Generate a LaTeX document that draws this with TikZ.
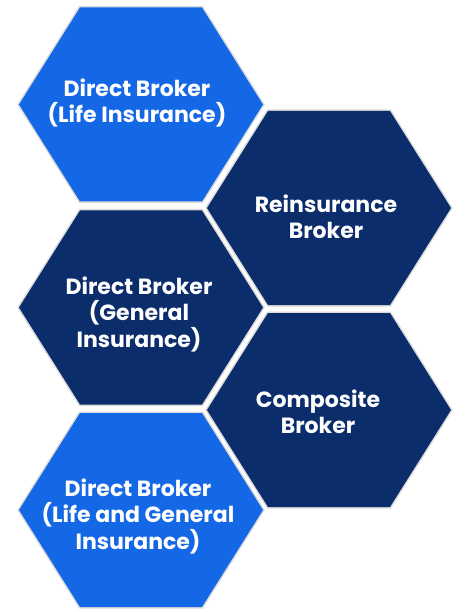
\documentclass[tikz,border=0pt]{standalone}
\usepackage{fontspec}
\setmainfont{Poppins}[BoldFont={* Bold}]
\definecolor{brightblue}{HTML}{1568E5}
\definecolor{navy}{HTML}{0C2D6C}
\tikzset{
  hexshadow/.style={draw=black!14, line width=3pt, line join=miter},
  hexlabel/.style={text=white, align=center, inner sep=0pt,
    font=\fontsize{22}{26.5}\selectfont\bfseries},
}
\def\hexshape{(-122,0) -- (-61,-97) -- (61,-97) -- (122,0) -- (61,97) -- (-61,97) -- cycle}
\begin{document}
\begin{tikzpicture}[x=1pt,y=-1pt]
\useasboundingbox[fill=white] (0,0) rectangle (474,612);
\foreach \px/\py/\c in {141/104.5/brightblue, 329/208/navy, 141/307.5/navy, 329/410/navy, 141/510/brightblue}{
  \path[hexshadow, shift={(\px,\py)}] \hexshape;
  \path[fill=\c, shift={(\px,\py)}] \hexshape;
}
\node[hexlabel] (life) at (137,103) {Direct Broker\\(Life Insurance)};
\node[hexlabel] (reins) at (326,217) {Reinsurance\\Broker};
\node[hexlabel] (general) at (139,314) {Direct Broker\\(General\\Insurance)};
\node[hexlabel] (composite) at (318,412) {Composite\\Broker};
\node[hexlabel] (both) at (138,516) {Direct Broker\\(Life and General\\Insurance)};
\end{tikzpicture}
\end{document}
